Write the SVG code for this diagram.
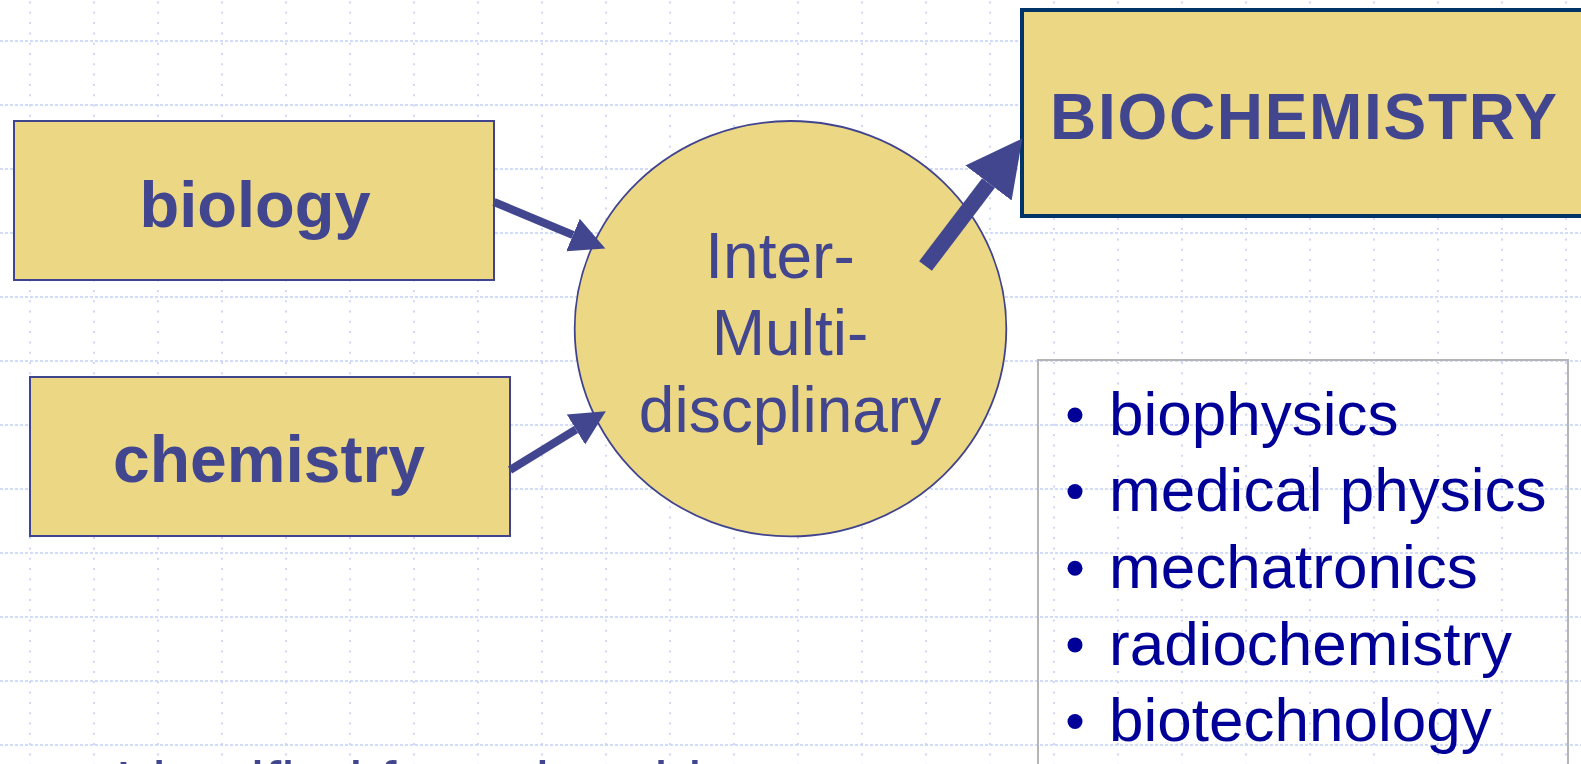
<svg xmlns="http://www.w3.org/2000/svg" width="1581" height="764" viewBox="0 0 1581 764">
  <style>
    .grid-v { fill: none; stroke: #c3cff6; stroke-width: 1.6; stroke-dasharray: 2 8.3; }
    .grid-h { fill: none; stroke: #c3cff6; stroke-width: 1.6; stroke-dasharray: 3 2; }
    .box { fill: #ebd784; stroke: #40448f; stroke-width: 2; }
    .label-bold { font-family: "Liberation Sans", Arial, sans-serif; font-weight: bold; fill: #41468f; text-anchor: middle; }
    .label { font-family: "Liberation Sans", Arial, sans-serif; fill: #41468f; text-anchor: middle; font-size: 64px; }
    .item { font-family: "Liberation Sans", Arial, sans-serif; fill: #000099; font-size: 62px; }
    .bullet { fill: #000099; }
    .shaft { fill: none; stroke: #41468f; stroke-linecap: butt; }
  </style>
  <defs>
    <marker id="head-small" markerUnits="userSpaceOnUse" markerWidth="38" markerHeight="38" viewBox="0 -19 38 38" refX="0" refY="0" orient="auto">
      <path d="M0,-17.5 L35,0 L0,17.5 Z" fill="#41468f"/>
    </marker>
    <marker id="head-large" markerUnits="userSpaceOnUse" markerWidth="58" markerHeight="60" viewBox="0 -30 58 60" refX="0" refY="0" orient="auto">
      <path d="M0,-29 L56,0 L0,29 Z" fill="#41468f"/>
    </marker>
  </defs>

  <rect width="1581" height="764" fill="#ffffff"/>

  <!-- dotted background grid, 64px pitch -->
  <g id="grid">
    <path class="grid-v" d="M30,0V764 M94,0V764 M158,0V764 M222,0V764 M286,0V764 M350,0V764 M414,0V764 M478,0V764 M542,0V764 M606,0V764 M670,0V764 M734,0V764 M798,0V764 M862,0V764 M926,0V764 M990,0V764 M1054,0V764 M1118,0V764 M1182,0V764 M1246,0V764 M1310,0V764 M1374,0V764 M1438,0V764 M1502,0V764 M1566,0V764" stroke-dashoffset="-1.5"/>
    <path class="grid-h" d="M0,41H1581 M0,105H1581 M0,169H1581 M0,233H1581 M0,297H1581 M0,361H1581 M0,425H1581 M0,489H1581 M0,553H1581 M0,617H1581 M0,681H1581 M0,745H1581"/>
  </g>

  <g id="node-biology">
    <rect class="box" x="14" y="121" width="480" height="159"/>
    <text class="label-bold" x="255" y="227" font-size="65">biology</text>
  </g>

  <g id="node-chemistry">
    <rect class="box" x="30" y="377" width="480" height="159"/>
    <text class="label-bold" x="269" y="482" font-size="66">chemistry</text>
  </g>

  <g id="node-interdisciplinary">
    <ellipse cx="790.5" cy="328.7" rx="215.8" ry="207.7" fill="#ebd784" stroke="#40448f" stroke-width="1.8"/>
    <text class="label" x="780" y="278">Inter-</text>
    <text class="label" x="790" y="355">Multi-</text>
    <text class="label" x="790" y="432">discplinary</text>
  </g>

  <g id="node-biochemistry">
    <rect x="1022" y="10" width="600" height="206" fill="#ebd784" stroke="#003366" stroke-width="4"/>
    <text class="label-bold" x="1303.5" y="138.5" font-size="64" textLength="507" lengthAdjust="spacing">BIOCHEMISTRY</text>
  </g>

  <g id="node-related-fields">
    <rect x="1038" y="360" width="530" height="420" fill="none" stroke="#b5b5b5" stroke-width="2"/>
    <circle class="bullet" cx="1075" cy="415" r="7.5"/>
    <text class="item" x="1109" y="434.6">biophysics</text>
    <circle class="bullet" cx="1075" cy="491.6" r="7.5"/>
    <text class="item" x="1109" y="511.2">medical physics</text>
    <circle class="bullet" cx="1075" cy="568.2" r="7.5"/>
    <text class="item" x="1109" y="587.8">mechatronics</text>
    <circle class="bullet" cx="1075" cy="644.9" r="7.5"/>
    <text class="item" x="1109" y="664.5">radiochemistry</text>
    <circle class="bullet" cx="1075" cy="721.5" r="7.5"/>
    <text class="item" x="1109" y="741.1">biotechnology</text>
  </g>

  <g id="connectors">
    <path class="shaft" d="M494,202 L573,235" stroke-width="8" marker-end="url(#head-small)"/>
    <path class="shaft" d="M510,470 L576,429.5" stroke-width="8" marker-end="url(#head-small)"/>
    <path class="shaft" d="M925.5,266 L988.5,183" stroke-width="16" marker-end="url(#head-large)"/>
  </g>

  <!-- body line running off the bottom edge -->
  <g id="footer-text">
    <text x="115" y="804" font-family="'Liberation Sans', Arial, sans-serif" font-size="61" fill="#41468f">Identified from the older</text>
  </g>
</svg>
